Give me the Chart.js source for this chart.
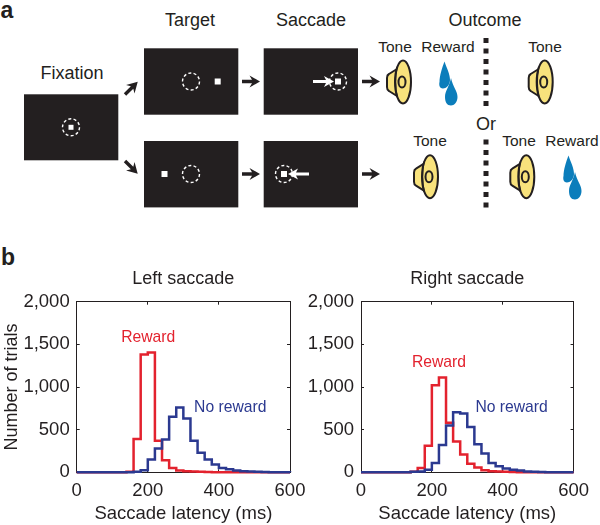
<!DOCTYPE html>
<html>
<head>
<meta charset="utf-8">
<title>Saccade latency</title>
<script src="https://cdn.jsdelivr.net/npm/chart.js@4"></script>
<style>
  html, body { margin: 0; padding: 0; background: #fff; }
  #page { position: relative; width: 600px; height: 525px; overflow: hidden; }
  #schema, canvas { position: absolute; }
  #schema { left: 0; top: 0; }
  #leftChart { left: 0; top: 262px; }
  #rightChart { left: 300px; top: 262px; }
  #schema text { font-family: "Liberation Sans", Arial, sans-serif; fill: #231f20; text-anchor: middle; }
</style>
</head>
<body>
<div id="page">
  <svg id="schema" width="600" height="525" viewBox="0 0 600 525">
    <defs>
      <g id="speaker">
        <path d="M-6,-13 L-14,-8 Q-16,-7 -16,-4 L-16,5 Q-16,8 -14,9 L-6,14 Z" fill="#f8e27c" stroke="#231f20" stroke-width="2"/>
        <ellipse cx="0" cy="0" rx="8" ry="21.5" fill="#f8e27c" stroke="#231f20" stroke-width="2"/>
        <path d="M-6,-15 Q-9,0 -6,15" fill="none" stroke="#231f20" stroke-width="1.5"/>
        <ellipse cx="-1" cy="0" rx="3.5" ry="5.5" fill="none" stroke="#231f20" stroke-width="2"/>
      </g>
      <g id="drops" fill="#0b7dbb">
        <path d="M444.5,61.5 C447,69 450,74 450,80 C450,85 446,88.5 443,88.5 C439,88.5 439,84 439.5,82 C439.5,76 442,68 444.5,61.5 Z"/>
        <path d="M451,78 C453,87 457.5,91 457.5,97 C457.5,102 454,105.5 451,105.5 C447,105.5 445,102 445,97 C445,91 449,87 451,78 Z"/>
      </g>
      <path id="arrowR" d="M0,-1.7 L10,-1.7 L7.5,-6 L18,0 L7.5,6 L10,1.7 L0,1.7 Z" fill="#231f20"/>
      <circle id="ring" r="8.5" fill="none" stroke="#fff" stroke-width="1.4" stroke-dasharray="3 2.3"/>
      <rect id="spot" x="-3" y="-3" width="6" height="6" fill="#fff"/>
    </defs>

    <text x="7" y="18" style="font-size:23px;font-weight:bold">a</text>
    <text x="8" y="265" style="font-size:23px;font-weight:bold">b</text>

    <text x="72" y="79" style="font-size:18px">Fixation</text>
    <text x="190" y="26" style="font-size:18px">Target</text>
    <text x="311" y="26" style="font-size:18px">Saccade</text>
    <text x="485" y="26" style="font-size:18px">Outcome</text>
    <text x="486" y="130" style="font-size:18px">Or</text>

    <text x="395" y="52" style="font-size:15.5px">Tone</text>
    <text x="448" y="52" style="font-size:15.5px">Reward</text>
    <text x="545" y="52" style="font-size:15.5px">Tone</text>
    <text x="430" y="146" style="font-size:15.5px">Tone</text>
    <text x="519" y="146" style="font-size:15.5px">Tone</text>
    <text x="572" y="146" style="font-size:15.5px">Reward</text>

    <rect x="24" y="94.3" width="94.3" height="66" fill="#231f20"/>
    <rect x="144" y="48.3" width="94.3" height="66.4" fill="#231f20"/>
    <rect x="144" y="141" width="94.3" height="66.4" fill="#231f20"/>
    <rect x="263.7" y="48.3" width="94.3" height="66.4" fill="#231f20"/>
    <rect x="263.7" y="141" width="94.3" height="66.4" fill="#231f20"/>

    <use href="#ring" x="71" y="127.3"/><rect x="68.5" y="124.8" width="5" height="5" fill="#fff"/>
    <use href="#ring" x="191" y="81.5"/><use href="#spot" x="217.7" y="81.5"/>
    <use href="#ring" x="191" y="174"/><use href="#spot" x="164.5" y="174"/>
    <use href="#ring" x="338" y="81.5"/><use href="#spot" x="338" y="81.5"/>
    <use href="#ring" x="284" y="174"/><use href="#spot" x="284" y="174"/>

    <path d="M313,80 L326,80 L324,76 L334,81.5 L324,87 L326,83 L313,83 Z" fill="#fff"/>
    <path d="M309,172.5 L296,172.5 L298,168.5 L288,174 L298,179.5 L296,175.5 L309,175.5 Z" fill="#fff"/>

    <use href="#arrowR" transform="translate(125,94.5) rotate(-45)"/>
    <use href="#arrowR" transform="translate(125,161) rotate(45)"/>
    <use href="#arrowR" x="242" y="81.5"/>
    <use href="#arrowR" x="242" y="174"/>
    <use href="#arrowR" x="362" y="81.5"/>
    <use href="#arrowR" x="362" y="174"/>

    <use href="#speaker" x="403" y="82"/>
    <use href="#speaker" x="544.7" y="82"/>
    <use href="#speaker" x="430" y="176.7"/>
    <use href="#speaker" x="526.3" y="176.7"/>
    <use href="#drops"/>
    <use href="#drops" x="124" y="94"/>

    <g fill="#231f20">
      <rect x="483.5" y="38" width="5" height="5"/><rect x="483.5" y="48.5" width="5" height="5"/>
      <rect x="483.5" y="59" width="5" height="5"/><rect x="483.5" y="69.5" width="5" height="5"/>
      <rect x="483.5" y="80" width="5" height="5"/><rect x="483.5" y="90.5" width="5" height="5"/>
      <rect x="483.5" y="101" width="5" height="5"/>
      <rect x="483.5" y="139.5" width="5" height="5"/><rect x="483.5" y="150" width="5" height="5"/>
      <rect x="483.5" y="160.5" width="5" height="5"/><rect x="483.5" y="171" width="5" height="5"/>
      <rect x="483.5" y="181.5" width="5" height="5"/><rect x="483.5" y="192" width="5" height="5"/>
      <rect x="483.5" y="202.5" width="5" height="5"/>
    </g>
  </svg>
  <canvas id="leftChart" width="320" height="263"></canvas>
  <canvas id="rightChart" width="300" height="263"></canvas>
</div>

<script>
// bin starts in ms, bins are 20 ms wide
const binStarts = [0, 20, 40, 60, 80, 100, 120, 140, 160, 180, 200, 220, 240, 260, 280, 300, 320, 340, 360, 380, 400, 420, 440, 460, 480, 500, 520, 540, 560, 580, 600];

const leftReward = [0, 0, 0, 0, 0, 0, 2, 5, 390, 1380, 1405, 370, 140, 50, 20, 12, 8, 5, 3, 2, 1, 1, 0, 0, 0, 0, 0, 0, 0, 0, 0];
const leftNoReward = [0, 0, 0, 0, 0, 0, 0, 2, 5, 25, 150, 280, 385, 650, 760, 630, 370, 230, 150, 90, 50, 35, 20, 12, 8, 5, 3, 2, 1, 1, 0];
const rightReward = [0, 0, 0, 0, 0, 0, 0, 5, 50, 310, 1020, 1110, 580, 360, 210, 100, 55, 25, 12, 8, 5, 3, 2, 1, 0, 0, 0, 0, 0, 0, 0];
const rightNoReward = [0, 0, 0, 0, 0, 0, 0, 5, 10, 30, 110, 320, 550, 705, 690, 530, 330, 220, 110, 70, 45, 30, 20, 10, 5, 3, 2, 1, 0, 0, 0];

const xTicks = [0, 200, 400, 600];
const yTicks = [0, 500, 1000, 1500, 2000];

const FONT = "'Liberation Sans', Arial, sans-serif";
const INK = "#231f20";
const RED = "#e3222e";
const BLUE = "#2b3990";

function toPoints(values) {
  return values.map((v, i) => ({ x: binStarts[i], y: v }));
}

// coloured words next to the curves
const curveLabels = {
  id: "curveLabels",
  afterDatasetsDraw(chart, args, opts) {
    const c = chart.ctx;
    c.save();
    c.font = "15.7px " + FONT;
    c.textAlign = "center";
    c.textBaseline = "middle";
    opts.items.forEach((it) => {
      c.fillStyle = it.color;
      c.fillText(it.text, chart.scales.x.getPixelForValue(it.x), chart.scales.y.getPixelForValue(it.y));
    });
    c.restore();
  },
};

function boxAxis(position, min, max, ticks) {
  return {
    type: "linear",
    position: position,
    min: min,
    max: max,
    afterBuildTicks: (s) => { s.ticks = ticks.map((v) => ({ value: v })); },
    ticks: { display: false },
    border: { color: INK },
    grid: { drawOnChartArea: false, tickLength: -3, color: INK },
    afterFit: (s) => {
      if (position === "top") s.height = 0;
      else s.width = 0;
    },
  };
}

function drawPanel(id, title, reward, noReward, axisWidth, rightPad, yTitle, labels) {
  new Chart(document.getElementById(id), {
    type: "scatter",
    data: {
      datasets: [
        { label: "No reward", data: toPoints(noReward), showLine: true, stepped: true, borderColor: BLUE, borderWidth: 2.5, pointRadius: 0, clip: false },
        { label: "Reward", data: toPoints(reward), showLine: true, stepped: true, borderColor: RED, borderWidth: 2.5, pointRadius: 0, clip: false },
      ],
    },
    plugins: [curveLabels],
    options: {
      responsive: false,
      animation: false,
      layout: { padding: { right: rightPad, left: 0, top: 0, bottom: 0 } },
      plugins: {
        legend: { display: false },
        tooltip: { enabled: false },
        title: {
          display: true,
          text: title,
          fullSize: false,
          color: INK,
          font: { family: FONT, size: 18, weight: "normal", lineHeight: 1.2 },
          padding: { top: 6, bottom: 12.1 },
        },
        curveLabels: { items: labels },
      },
      scales: {
        x: {
          type: "linear",
          position: "bottom",
          min: 0,
          max: 600,
          afterBuildTicks: (s) => { s.ticks = xTicks.map((v) => ({ value: v })); },
          ticks: { color: INK, font: { family: FONT, size: 18.5 }, padding: 11, maxRotation: 0, autoSkip: false, callback: (v) => v },
          border: { color: INK },
          grid: { drawOnChartArea: false, tickLength: -3, color: INK },
          title: { display: true, text: "Saccade latency (ms)", color: INK, font: { family: FONT, size: 18.5, lineHeight: 1.2 }, padding: { top: 0, bottom: 0 } },
          afterFit: (s) => { s.height = 52.7; },
        },
        y: {
          type: "linear",
          position: "left",
          min: 0,
          max: 2000,
          afterBuildTicks: (s) => { s.ticks = yTicks.map((v) => ({ value: v })); },
          ticks: { color: INK, font: { family: FONT, size: 18.5 }, padding: 10, autoSkip: false, callback: (v) => v.toLocaleString("en-US") },
          border: { color: INK },
          grid: { drawOnChartArea: false, tickLength: -3, color: INK },
          title: { display: yTitle !== "", text: yTitle, color: INK, font: { family: FONT, size: 18, lineHeight: 1.2 }, padding: { top: 1.5, bottom: 0 } },
          afterFit: (s) => { s.width = axisWidth; },
        },
        xTop: boxAxis("top", 0, 600, xTicks),
        yRight: boxAxis("right", 0, 2000, yTicks),
      },
    },
  });
}

drawPanel("leftChart", "Left saccade", leftReward, leftNoReward, 76.7, 30, "Number of trials", [
  { text: "Reward", x: 201, y: 1582, color: RED },
  { text: "No reward", x: 432, y: 762, color: BLUE },
]);

drawPanel("rightChart", "Right saccade", rightReward, rightNoReward, 61, 25.7, "", [
  { text: "Reward", x: 220, y: 1285, color: RED },
  { text: "No reward", x: 425, y: 762, color: BLUE },
]);
</script>
</body>
</html>
